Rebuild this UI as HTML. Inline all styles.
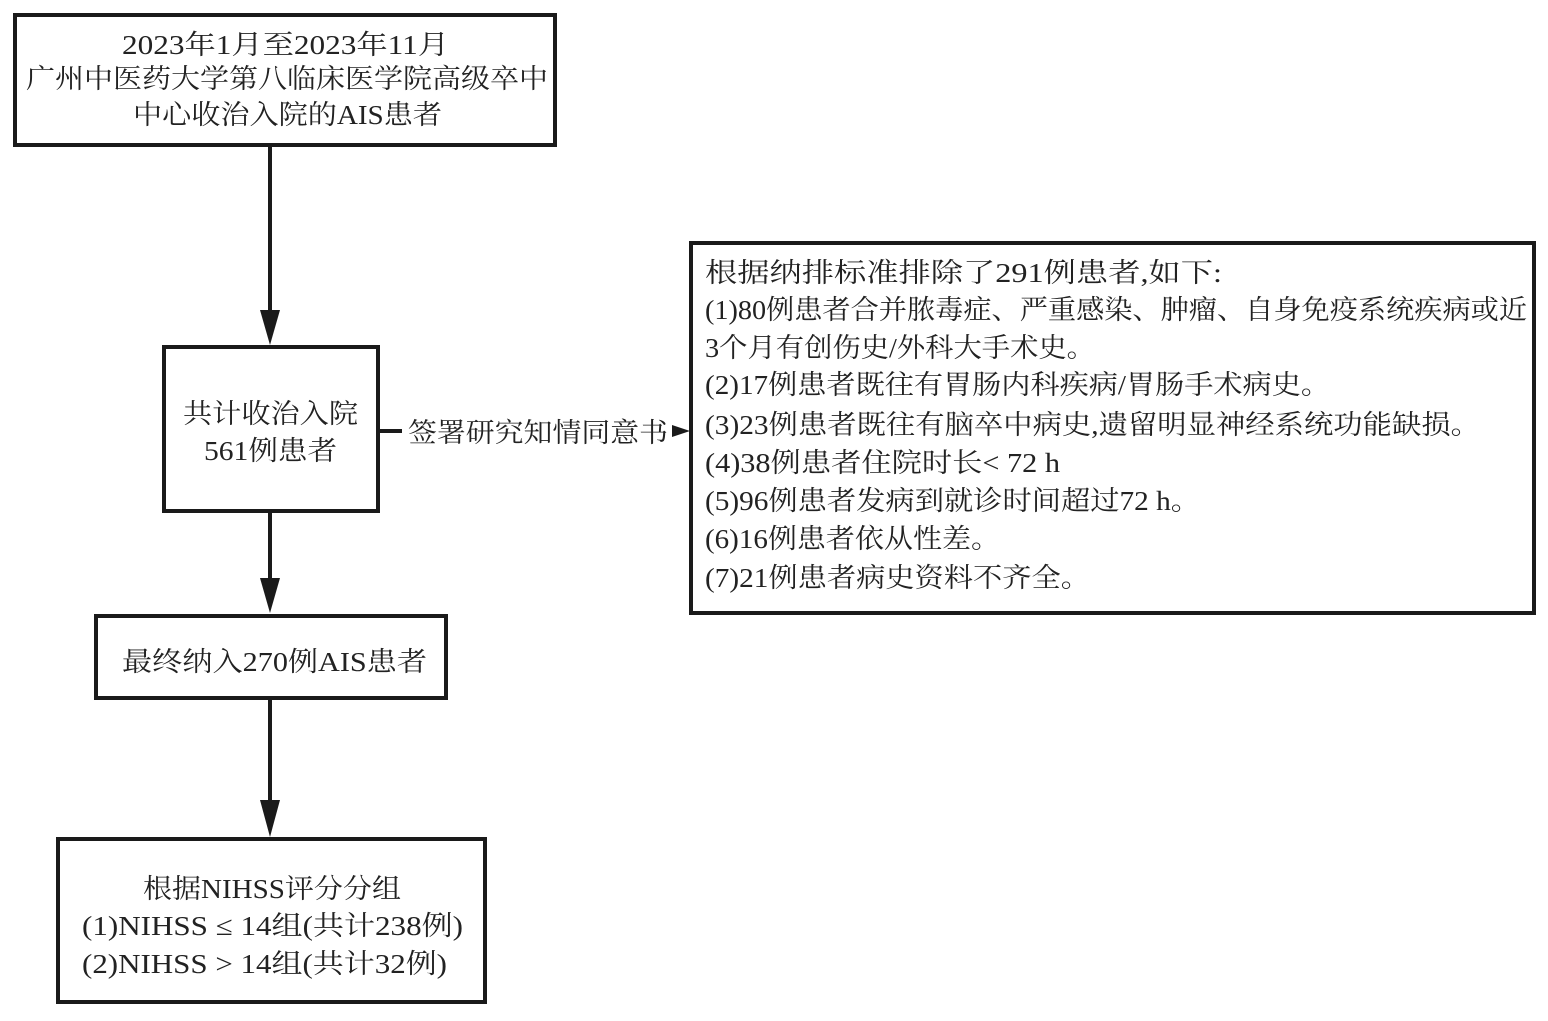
<!DOCTYPE html>
<html><head><meta charset="utf-8"><style>
html,body{margin:0;padding:0;background:#fff;}
svg{display:block}
text{font-family:"Liberation Serif","Noto Serif CJK SC",serif;font-size:27px;fill:#222;}
</style></head><body>
<svg width="1548" height="1021" viewBox="0 0 1548 1021">
<g fill="none" stroke="#1a1a1a" stroke-width="4">
<rect x="15" y="15" width="540" height="130"/>
<rect x="164" y="347" width="214" height="164"/>
<rect x="96" y="616" width="350" height="82"/>
<rect x="58" y="839" width="427" height="163"/>
<rect x="691" y="243" width="843" height="370"/>
<line x1="270" y1="145" x2="270" y2="312"/>
<line x1="270" y1="511" x2="270" y2="580"/>
<line x1="270" y1="698" x2="270" y2="802"/>
<line x1="378" y1="431" x2="402" y2="431"/>
</g>
<g fill="#1a1a1a">
<polygon points="260,310 280,310 270,345"/>
<polygon points="260,578 280,578 270,613"/>
<polygon points="260,800 280,800 270,837"/>
<polygon points="672,425 672,437 690,431"/>
</g>
<g text-anchor="start" lengthAdjust="spacingAndGlyphs">
<text x="122" y="54" textLength="327" lengthAdjust="spacingAndGlyphs">2023年1月至2023年11月</text>
<text x="26" y="88" textLength="522" lengthAdjust="spacingAndGlyphs">广州中医药大学第八临床医学院高级卒中</text>
<text x="133" y="124" textLength="309" lengthAdjust="spacingAndGlyphs">中心收治入院的AIS患者</text>
<text x="183" y="423" textLength="175" lengthAdjust="spacingAndGlyphs">共计收治入院</text>
<text x="204" y="460" textLength="133" lengthAdjust="spacingAndGlyphs">561例患者</text>
<text x="408" y="442" textLength="260" lengthAdjust="spacingAndGlyphs">签署研究知情同意书</text>
<text x="122" y="671" textLength="305" lengthAdjust="spacingAndGlyphs">最终纳入270例AIS患者</text>
<text x="143" y="898" textLength="258" lengthAdjust="spacingAndGlyphs">根据NIHSS评分分组</text>
<text x="82" y="935" textLength="381" lengthAdjust="spacingAndGlyphs">(1)NIHSS ≤ 14组(共计238例)</text>
<text x="82" y="973" textLength="365" lengthAdjust="spacingAndGlyphs">(2)NIHSS &gt; 14组(共计32例)</text>
<text x="705" y="282" textLength="517" lengthAdjust="spacingAndGlyphs">根据纳排标准排除了291例患者,如下:</text>
<text x="705" y="319" textLength="822" lengthAdjust="spacingAndGlyphs">(1)80例患者合并脓毒症、严重感染、肿瘤、自身免疫系统疾病或近</text>
<text x="705" y="357" textLength="390" lengthAdjust="spacingAndGlyphs">3个月有创伤史/外科大手术史。</text>
<text x="705" y="394" textLength="625" lengthAdjust="spacingAndGlyphs">(2)17例患者既往有胃肠内科疾病/胃肠手术病史。</text>
<text x="705" y="434" textLength="775" lengthAdjust="spacingAndGlyphs">(3)23例患者既往有脑卒中病史,遗留明显神经系统功能缺损。</text>
<text x="705" y="472" textLength="355" lengthAdjust="spacingAndGlyphs">(4)38例患者住院时长&lt; 72 h</text>
<text x="705" y="510" textLength="495" lengthAdjust="spacingAndGlyphs">(5)96例患者发病到就诊时间超过72 h。</text>
<text x="705" y="548" textLength="295" lengthAdjust="spacingAndGlyphs">(6)16例患者依从性差。</text>
<text x="705" y="587" textLength="385" lengthAdjust="spacingAndGlyphs">(7)21例患者病史资料不齐全。</text>
</g>
</svg>
</body></html>
